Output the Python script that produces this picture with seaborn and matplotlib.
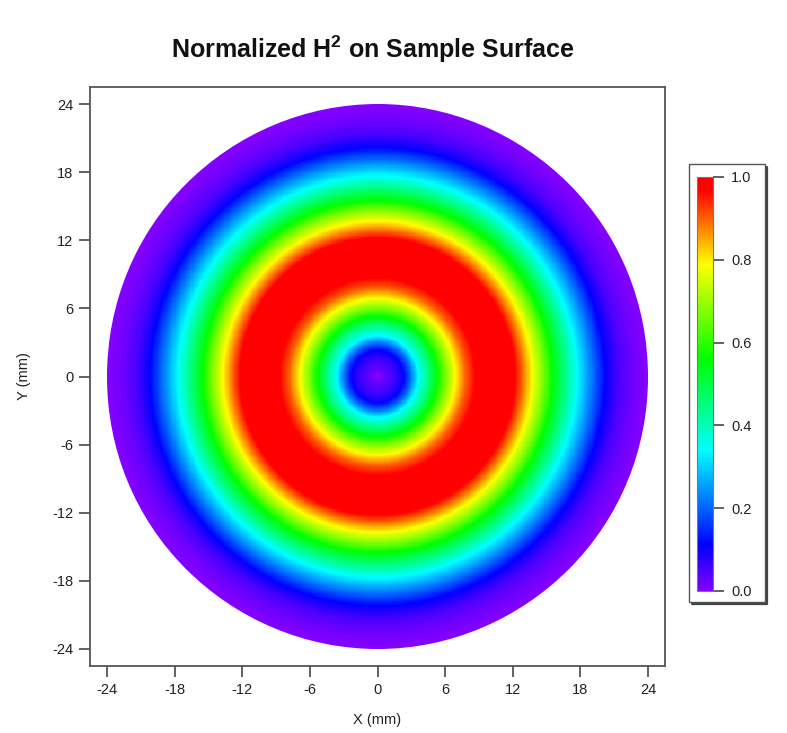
import numpy as np
import pandas as pd
import matplotlib
matplotlib.use("Agg")
import matplotlib.pyplot as plt
from matplotlib.colors import LinearSegmentedColormap
from matplotlib.patches import Rectangle, Circle
from matplotlib.lines import Line2D
import seaborn as sns

# Radial profile of the normalized H^2 field (radius in mm)
radius_mm = [0.0, 0.7, 1.5, 2.3, 3.0, 3.6, 4.5, 5.3, 6.1, 6.9, 7.8, 8.7, 9.6,
             10.4, 11.3, 12.2, 12.8, 13.7, 14.6, 15.5, 16.6, 17.7, 19.0, 20.2,
             21.4, 22.6, 24.0]
h2_norm = [0.00, 0.03, 0.06, 0.11, 0.22, 0.34, 0.45, 0.56, 0.68, 0.79, 0.90,
           0.97, 0.995, 1.00, 0.995, 0.97, 0.90, 0.79, 0.68, 0.56, 0.45, 0.34,
           0.22, 0.11, 0.05, 0.02, 0.00]
sample_radius = 24.0

axis_ticks = [-24, -18, -12, -6, 0, 6, 12, 18, 24]
cbar_ticks = [0.0, 0.2, 0.4, 0.6, 0.8, 1.0]

# Rainbow colour table: violet -> blue -> cyan -> green -> yellow -> red
cmap_stops = [0.00, 0.11, 0.34, 0.56, 0.79, 0.97, 1.00]
cmap_colors = ["#8400ff", "#0000ff", "#00ffff", "#00ff00", "#ffff00",
               "#ff0000", "#ff0000"]
rainbow = LinearSegmentedColormap.from_list("rainbow_ctab",
                                            list(zip(cmap_stops, cmap_colors)))

sns.set_theme(style="white")
plt.rcParams["font.family"] = ["Liberation Sans", "DejaVu Sans"]
plt.rcParams["mathtext.fontset"] = "custom"
plt.rcParams["mathtext.rm"] = "Liberation Sans"
plt.rcParams["mathtext.bf"] = "Liberation Sans:bold"

# Sample surface grid
half = 25.5
step = 0.1
n = int(round(2 * half / step))
centers = -half + step * (np.arange(n) + 0.5)
xx, yy = np.meshgrid(centers, centers[::-1])
rr = np.hypot(xx, yy)
field = np.interp(rr, radius_mm, h2_norm)
field[rr > sample_radius + 0.3] = np.nan
df = pd.DataFrame(field, index=centers[::-1], columns=centers)

W, H = 787, 733
fig = plt.figure(figsize=(W / 100, H / 100), dpi=100)
fig.patch.set_facecolor("white")

def fbox(x0, y0, x1, y1):
    return [x0 / W, 1 - y1 / H, (x1 - x0) / W, (y1 - y0) / H]

ax = fig.add_axes(fbox(90, 87, 665, 666))
cax = fig.add_axes(fbox(697, 177, 713, 591))

sns.heatmap(df, ax=ax, cmap=rainbow, vmin=0, vmax=1, cbar_ax=cax,
            xticklabels=False, yticklabels=False)
ax.set_facecolor("white")
ax.set_xlim(0, n)
ax.set_ylim(n, 0)

# Smooth round edge of the sample
disk = Circle((n / 2, n / 2), sample_radius / step, transform=ax.transData,
              facecolor="none", edgecolor="none")
ax.add_patch(disk)
ax.collections[0].set_clip_path(disk)

edge = "#555555"
tick_color = "#555555"
ax.set_xticks([(t + half) / step for t in axis_ticks])
ax.set_xticklabels([str(t) for t in axis_ticks])
ax.set_yticks([(half - t) / step for t in axis_ticks])
ax.set_yticklabels([str(t) for t in axis_ticks], rotation=0)
ax.tick_params(axis="both", direction="out", length=8, width=1.3,
               color=tick_color, labelsize=10.5, labelcolor="#222222", pad=4,
               bottom=True, left=True)
for s in ax.spines.values():
    s.set_visible(True)
    s.set_color(edge)
    s.set_linewidth(1.3)
ax.set_xlabel("X (mm)", fontsize=10.5, color="#222222", labelpad=12)
ax.set_ylabel("Y (mm)", fontsize=10.5, color="#222222", labelpad=15)

cbar = ax.collections[0].colorbar
cbar.set_ticks(cbar_ticks)
cbar.set_ticklabels([f"{t:.1f}" for t in cbar_ticks])
cbar.ax.tick_params(direction="out", length=8, width=1.3, color=tick_color,
                    labelsize=10.5, labelcolor="#222222", pad=5, right=True)
cbar.outline.set_visible(True)
cbar.outline.set_edgecolor("#777777")
cbar.outline.set_linewidth(0.8)

# Framed box around the colour scale, with a drop shadow
x0, y0, x1, y1 = 689, 164, 765, 602
fig.patches.append(Rectangle((x0 / W, 1 - y1 / H), (x1 - x0) / W,
                             (y1 - y0) / H, transform=fig.transFigure,
                             fill=False, edgecolor="#555555", linewidth=1.0))
fig.lines.append(Line2D([(x1 + 1.5) / W, (x1 + 1.5) / W],
                        [1 - (y0 + 3) / H, 1 - (y1 + 1.5) / H],
                        transform=fig.transFigure, color="#444444", lw=1.6))
fig.lines.append(Line2D([(x0 + 3) / W, (x1 + 1.5) / W],
                        [1 - (y1 + 1.5) / H, 1 - (y1 + 1.5) / H],
                        transform=fig.transFigure, color="#444444", lw=1.6))

fig.text(373 / W, 1 - 49 / H, r"Normalized H$^{\mathbf{2}}$ on Sample Surface",
         ha="center", va="center", fontsize=18, fontweight="bold",
         color="#111111")

fig.savefig("out.png", dpi=100, facecolor="white")
